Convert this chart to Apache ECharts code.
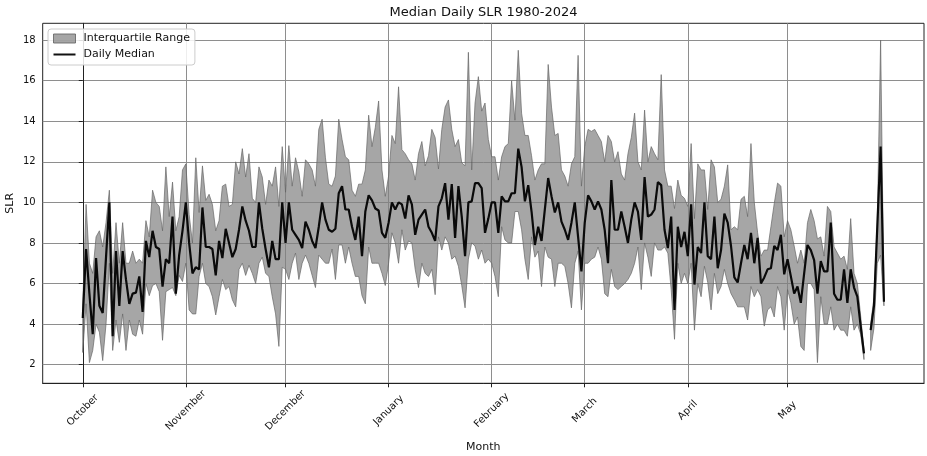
<!DOCTYPE html>
<html><head><meta charset="utf-8">
<script src="https://cdn.jsdelivr.net/npm/echarts@6/dist/echarts.min.js"></script>
<style>html,body{margin:0;padding:0;background:#fff}#c{width:927px;height:456px}</style>
</head><body><div id="c"></div>
<script>
// Month tick labels and their day offsets (days since October 1)
const monthNames = ['October','November','December','January','February','March','April','May'];
const monthStartDays = [0,31,61,92,123,151,182,212];
const yTicks = [2,4,6,8,10,12,14,16,18];

// Daily median SLR (index = days since Oct 1)
const median = [
4.3,7.7,5.5,3.5,7.25,4.9,4.55,7.3,10.0,3.4,
7.6,4.9,7.6,6.2,5.0,5.5,5.55,6.35,4.6,8.1,
7.3,8.6,7.8,7.7,5.85,7.2,7.0,9.3,5.5,7.4,
8.6,10.0,8.0,6.5,6.8,6.7,9.75,7.8,7.8,7.7,
6.4,8.1,7.25,8.7,8.0,7.3,7.7,8.65,9.8,9.1,
8.6,7.8,7.8,10.0,8.7,7.7,6.8,8.1,7.2,7.2,
10.0,8.0,10.0,8.65,8.4,8.15,7.75,9.05,8.65,8.1,
7.75,8.8,10.0,9.15,8.65,8.55,8.7,10.45,10.8,9.65,
9.65,8.8,8.15,9.3,7.35,9.55,10.35,10.1,9.7,9.6,
8.5,8.25,9.0,10.0,9.65,10.0,9.9,9.2,10.35,9.9,
8.4,9.15,9.4,9.65,8.8,8.5,8.1,9.8,10.2,10.95,
9.15,10.9,8.25,10.8,9.3,7.35,10.0,10.05,10.95,10.95,
10.7,8.5,9.2,10.0,10.0,8.5,10.3,10.05,10.05,10.45,
10.45,12.65,11.75,10.05,10.85,9.55,7.9,8.8,8.1,9.65,
11.2,10.3,9.5,10.0,9.05,8.65,8.15,9.0,10.0,8.3,
6.6,9.0,10.35,10.05,9.65,10.05,9.65,8.65,7.0,11.1,
8.65,8.65,9.55,8.8,8.0,9.15,10.0,9.55,8.15,11.25,
9.3,9.4,9.65,11.0,10.85,8.65,7.75,9.3,4.7,8.8,
7.8,8.55,7.35,9.9,5.95,7.8,7.5,10.0,7.35,7.2,
9.3,6.75,7.65,9.45,9.0,7.85,6.3,6.05,7.0,7.9,
7.2,8.5,7.0,8.25,6.0,6.3,6.7,6.75,7.85,7.65,
8.4,6.45,7.2,6.35,5.5,5.85,5.05,6.5,7.9,7.65,
7.15,5.5,7.1,6.6,6.6,9.0,5.5,5.2,5.2,6.7,
5.05,6.7,5.8,5.35,3.9,2.55,null,3.7,4.9,8.8,
12.75,5.1
];

// 75th percentile
const q75 = [
5.0,9.9,7.0,6.5,8.3,8.6,7.8,9.0,10.6,6.5,
9.0,7.0,9.0,7.0,7.0,7.6,7.0,7.2,7.0,9.1,
8.3,10.6,10.0,9.8,8.6,11.75,9.3,11.0,8.6,9.3,
11.6,11.9,9.4,8.0,12.2,9.5,11.8,10.1,10.4,9.9,
8.6,9.1,10.8,10.9,9.8,9.9,12.0,11.4,12.65,11.25,
12.4,10.2,10.0,11.75,11.25,9.9,11.1,10.8,11.75,9.8,
12.75,10.5,12.8,10.8,12.2,11.5,10.3,12.1,11.9,11.6,
10.8,13.6,14.1,12.2,10.9,10.8,11.3,14.1,13.1,12.25,
12.1,10.6,10.3,10.9,10.9,11.6,14.3,12.75,13.7,15.0,
11.6,10.3,11.3,13.3,12.9,15.7,12.6,12.4,12.1,11.9,
11.1,12.4,13.0,11.8,12.3,13.6,13.2,11.65,13.6,14.7,
15.05,13.6,12.75,13.1,11.95,11.8,17.4,11.6,14.9,16.2,
14.5,14.9,13.1,12.25,12.25,11.1,12.25,12.75,12.9,16.0,
14.05,17.5,14.4,13.3,13.3,12.3,11.1,11.6,11.9,11.9,
16.8,14.7,13.3,13.4,11.6,11.3,10.8,11.9,12.25,17.25,
10.8,12.75,13.6,13.5,13.6,13.3,13.0,12.0,13.3,13.0,
12.0,12.5,11.4,11.1,12.4,13.2,14.4,12.0,11.6,14.55,
12.0,12.75,12.4,12.1,16.3,11.6,10.8,10.8,9.7,11.1,
10.35,10.2,9.8,12.9,9.2,11.9,11.6,11.6,9.65,12.1,
11.75,10.0,10.15,10.8,11.85,8.65,8.8,8.65,10.15,10.3,
9.3,12.9,10.0,8.5,7.35,7.65,7.65,8.8,9.95,10.95,
10.8,8.3,9.1,8.65,7.85,7.0,7.65,7.0,9.0,9.65,
9.1,8.2,8.3,7.35,9.8,9.55,7.8,7.5,7.2,7.35,
6.7,9.2,6.5,6.0,4.4,2.7,null,4.0,5.3,9.0,
18.0,5.3
];

// 25th percentile
const q25 = [
2.6,5.0,2.1,2.7,4.0,3.6,2.2,4.0,7.0,2.7,
4.2,3.1,4.5,2.7,4.2,3.5,3.4,4.2,3.5,6.0,
5.4,5.9,6.0,5.6,3.2,5.6,5.7,5.8,5.4,6.4,
6.1,7.0,4.7,4.5,4.5,6.35,7.0,6.0,5.85,5.35,
4.45,5.35,6.2,5.7,5.85,5.2,4.85,6.7,7.0,6.4,
6.9,6.5,6.0,7.0,7.3,6.5,6.35,5.35,4.5,2.9,
6.8,6.7,6.2,7.0,7.5,6.2,7.0,7.4,7.0,6.4,
5.8,7.4,7.2,7.0,7.0,7.7,6.2,7.9,7.9,7.0,
7.8,7.0,6.35,6.35,5.4,5.0,7.8,7.0,7.0,7.0,
6.5,5.9,7.0,8.5,8.0,7.0,8.65,7.65,8.1,8.0,
6.7,5.8,7.0,6.5,6.35,6.7,5.45,8.3,7.65,8.3,
8.0,7.2,7.35,6.85,5.9,4.8,7.2,8.0,7.85,7.2,
7.65,7.0,7.2,7.0,6.35,5.35,8.8,8.15,8.0,8.0,
9.55,9.55,8.65,7.2,6.2,8.3,7.3,7.6,5.85,7.8,
7.3,7.2,5.85,7.0,7.0,6.85,6.0,4.8,7.0,7.6,
4.7,7.0,7.0,7.2,7.3,7.8,7.2,5.5,5.35,6.7,
5.85,5.7,5.85,6.0,6.2,6.5,7.0,7.8,5.7,8.0,
7.3,6.35,8.0,7.65,7.65,7.8,7.5,5.7,3.25,7.0,
6.0,6.5,6.0,7.0,3.7,6.0,5.35,6.85,6.05,4.7,
6.5,5.5,5.85,6.7,6.0,5.5,5.2,4.85,4.85,4.85,
4.2,5.85,5.35,5.7,5.35,3.9,4.7,4.85,4.35,5.85,
5.35,3.7,5.7,5.05,4.0,4.35,2.9,2.7,6.0,6.0,
5.7,2.1,5.35,4.0,4.0,4.85,3.7,4.0,3.7,3.7,
3.4,4.85,3.7,4.0,3.5,2.25,null,2.7,3.8,7.0,
7.4,4.9
];

const FONT = 'DejaVu Sans';
const FILL = 'rgba(128,128,128,0.7)';
const EDGE = 'rgba(100,100,100,0.85)';
const days = median.map((_, i) => i);

// contiguous runs of days where the quartiles exist (gap where data is missing)
const bandRuns = [];
let runStart = null;
for (let d = 0; d < days.length; d++) {
  const ok = q25[d] != null && q75[d] != null;
  if (ok && runStart === null) runStart = d;
  if (!ok && runStart !== null) { bandRuns.push([runStart, d - 1]); runStart = null; }
}
if (runStart !== null) bandRuns.push([runStart, days.length - 1]);

const medData = days.map(d => [d, median[d]]);

const chart = echarts.init(document.getElementById('c'), null, {renderer: 'canvas'});
chart.setOption({
  animation: false,
  backgroundColor: '#fff',
  textStyle: {fontFamily: FONT},
  title: {
    text: 'Median Daily SLR 1980-2024',
    left: 483.5, top: 6, padding: 0, textAlign: 'center',
    textStyle: {fontSize: 13, fontWeight: 'normal', color: '#111', fontFamily: FONT}
  },
  legend: {
    orient: 'vertical', left: 48, top: 29,
    itemWidth: 22, itemHeight: 9, itemGap: 5,
    padding: [4, 5, 5, 5],
    backgroundColor: 'rgba(255,255,255,0.85)',
    borderColor: '#ccc', borderWidth: 1, borderRadius: 3,
    textStyle: {fontSize: 11, color: '#111', fontFamily: FONT, padding: [0, 0, 0, 3]},
    data: [
      {name: 'Interquartile Range', icon: 'rect', itemStyle: {color: FILL, borderColor: EDGE, borderWidth: 1}},
      {name: 'Daily Median', icon: 'path://M0,0H22V2H0Z', itemStyle: {color: '#111', borderWidth: 0}}
    ]
  },
  grid: {
    left: 42.7, right: 3, top: 23.3, bottom: 72.7,
    outerBoundsMode: 'none', containLabel: false,
    show: true, borderColor: '#222', borderWidth: 1, backgroundColor: 'transparent'
  },
  xAxis: {
    type: 'value', min: -12.05, max: 253.05,
    name: 'Month', nameLocation: 'middle', nameGap: 58,
    nameTextStyle: {fontSize: 11, color: '#111', fontFamily: FONT},
    axisLine: {show: true, lineStyle: {color: '#222', width: 1}},
    axisTick: {show: true, customValues: monthStartDays, length: 4, lineStyle: {color: '#222'}},
    axisLabel: {
      customValues: monthStartDays,
      formatter: v => monthNames[monthStartDays.indexOf(v)] || '',
      rotate: 45, align: 'center', verticalAlign: 'middle', margin: 27,
      fontSize: 10, color: '#111', fontFamily: FONT
    },
    splitLine: {show: true, lineStyle: {color: '#8e8e8e', width: 1}}
  },
  yAxis: {
    type: 'value', min: 1.08, max: 18.83,
    name: 'SLR', nameLocation: 'middle', nameGap: 27, nameMoveOverlap: false,
    nameTextStyle: {fontSize: 11, color: '#111', fontFamily: FONT},
    axisLine: {show: true, lineStyle: {color: '#222', width: 1}},
    axisTick: {show: true, customValues: yTicks, length: 4, lineStyle: {color: '#222'}},
    axisLabel: {customValues: yTicks, margin: 7, fontSize: 10, color: '#111', fontFamily: FONT},
    splitLine: {show: true, lineStyle: {color: '#8e8e8e', width: 1}}
  },
  series: [
    {
      name: 'Interquartile Range', type: 'custom', silent: true, z: 2,
      itemStyle: {color: FILL},
      encode: {x: [0, 1], y: 2},
      data: bandRuns.map(r => [r[0], r[1], q25[r[0]]]),
      renderItem: (params, api) => {
        const s = api.value(0), e = api.value(1);
        const pts = [];
        for (let d = s; d <= e; d++) pts.push(api.coord([d, q75[d]]));
        for (let d = e; d >= s; d--) pts.push(api.coord([d, q25[d]]));
        return {
          type: 'polygon', shape: {points: pts},
          style: {fill: FILL, stroke: EDGE, lineWidth: 0.8, lineJoin: 'round'}
        };
      }
    },
    {
      name: 'Daily Median', type: 'line', data: medData,
      symbol: 'none', showSymbol: false, z: 3,
      lineStyle: {color: '#0a0a0a', width: 2.2}, itemStyle: {color: '#0a0a0a'}
    }
  ]
});
</script>
</body></html>
